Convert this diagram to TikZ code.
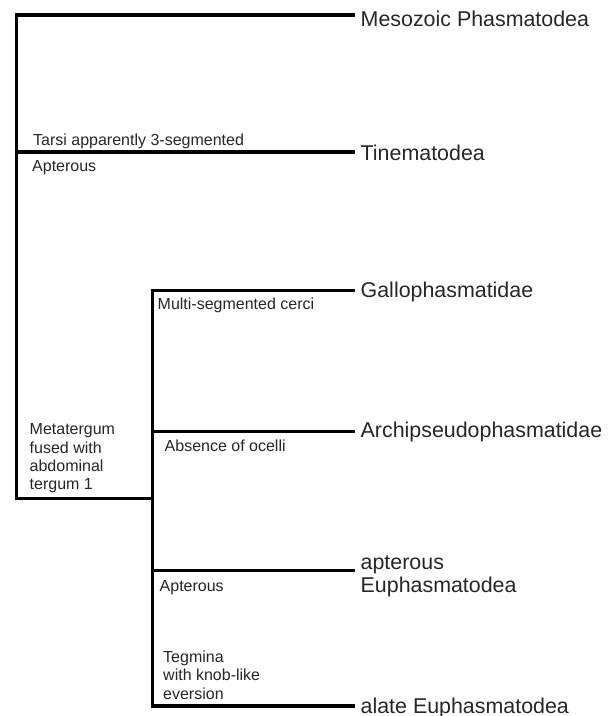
\documentclass[tikz,border=0pt]{standalone}
\usepackage{fontspec}
\setmainfont{Liberation Sans}
\begin{document}
\begin{tikzpicture}[x=1pt,y=-1pt,
  branch/.style={line width=3.2pt, draw=black},
  taxon/.style={anchor=base west, inner sep=0pt, text=black!85, font=\fontsize{21.4}{23.5}\selectfont, align=left},
  trait/.style={anchor=base west, inner sep=0pt, text=black!85, font=\fontsize{16}{18.2}\selectfont, align=left}]
\useasboundingbox (0,0) rectangle (614,716);
% junction and end coordinates
\coordinate (aTop) at (16.7,15);
\coordinate (aMid) at (16.7,152);
\coordinate (aBot) at (16.7,498.3);
\coordinate (bTop) at (152.3,290.5);
\coordinate (bArc) at (152.3,431.5);
\coordinate (bApt) at (152.3,570.5);
\coordinate (bBot) at (152.3,498.3);
\coordinate (bEnd) at (152.3,706);
\coordinate (eMes) at (355,15);
\coordinate (eTin) at (355,152);
\coordinate (eGal) at (355,290.5);
\coordinate (eArc) at (355,431.5);
\coordinate (eApt) at (355,570.5);
\coordinate (eAla) at (355,706);
% taxa (multi-line nodes: base = last line's baseline)
\node[taxon] (mes) at (360.5,26) {Mesozoic Phasmatodea};
\node[taxon] (tin) at (360.5,160.5) {Tinematodea};
\node[taxon] (gal) at (360.5,297) {Gallophasmatidae};
\node[taxon] (arc) at (360.5,437.5) {Archipseudophasmatidae};
\node[taxon] (apt) at (360.5,592.5) {apterous\\Euphasmatodea};
\node[taxon] (ala) at (360.5,713) {alate Euphasmatodea};
% characters
\node[trait] (tarsi) at (33,145) {Tarsi apparently 3-segmented};
\node[trait] (apt1) at (32,171.5) {Apterous};
\node[trait] (meta) at (29.5,489.5) {Metatergum\\fused with\\abdominal\\tergum 1};
\node[trait] (multi) at (157.5,309) {Multi-segmented cerci};
\node[trait] (ocel) at (164.5,451) {Absence of ocelli};
\node[trait] (apt2) at (159.5,591.5) {Apterous};
\node[trait] (tegm) at (163,699) {Tegmina\\with knob-like\\eversion};
% branches
\draw[branch] (eMes) -- (aTop) -- (aBot) -- (bBot);
\draw[branch] (aMid) -- (eTin);
\draw[branch] (eGal) -- (bTop) -- (bEnd) -- (eAla);
\draw[branch] (bArc) -- (eArc);
\draw[branch] (bApt) -- (eApt);
\end{tikzpicture}
\end{document}
